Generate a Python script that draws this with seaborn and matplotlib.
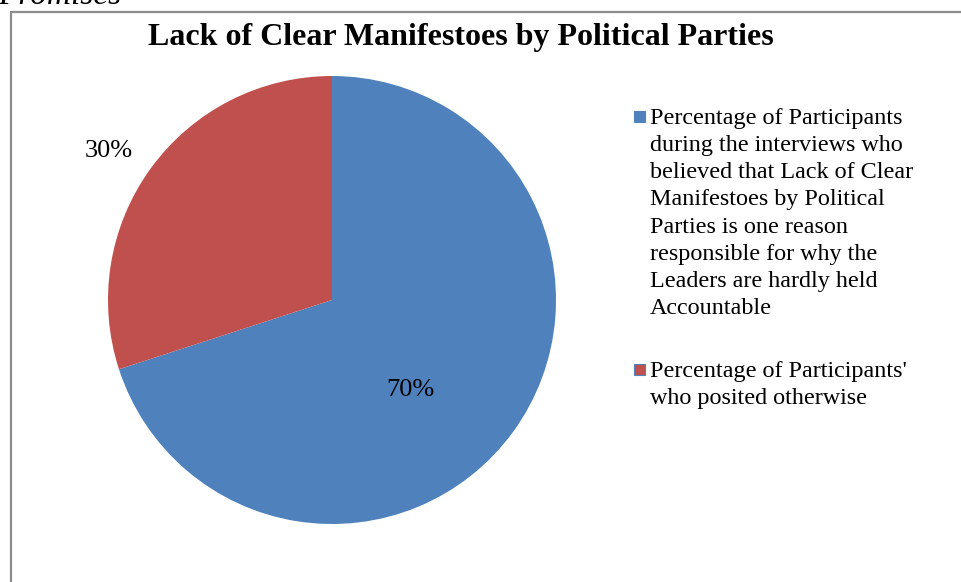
import matplotlib
matplotlib.use("Agg")
import matplotlib.pyplot as plt
from matplotlib.patches import Rectangle
from matplotlib.lines import Line2D
import seaborn as sns

# Data
categories = [
    "Percentage of Participants\nduring the interviews who\nbelieved that Lack of Clear\nManifestoes by Political\nParties is one reason\nresponsible for why the\nLeaders are hardly held\nAccountable",
    "Percentage of Participants'\nwho posited otherwise",
]
values = [70, 30]
colors = ["#4F81BD", "#C0504D"]
title = "Lack of Clear Manifestoes by Political Parties"

sns.set_theme(style="white")
plt.rcParams["font.family"] = ["Liberation Serif", "DejaVu Serif"]

W, H = 961, 582
fig = plt.figure(figsize=(W / 100, H / 100), dpi=100)

def fx(px):
    return px / W

def fy(py):
    return 1 - py / H

# Chart frame (left and top edges visible)
fig.add_artist(Line2D([fx(10.5), fx(10.5)], [0, fy(11.5)], color="#8c8c8c", lw=1.6, transform=fig.transFigure))
fig.add_artist(Line2D([fx(10.5), 1], [fy(11.5), fy(11.5)], color="#8c8c8c", lw=1.6, transform=fig.transFigure))

# Caption fragment above the frame
fig.text(fx(-2), fy(4), "Promises", fontsize=24, style="italic", ha="left", va="baseline", color="black")

# Title
fig.text(fx(461), fy(38), title, fontsize=23, fontweight="bold", ha="center", va="center", color="black")

# Pie
cx, cy, r = 332, 300, 224
ax = fig.add_axes([fx(cx - r), fy(cy + r), (2 * r) / W, (2 * r) / H])
wedges, _ = ax.pie(values, colors=colors, startangle=90, counterclock=False, radius=1,
                   wedgeprops=dict(linewidth=0))
ax.set_xlim(-1, 1)
ax.set_ylim(-1, 1)
ax.set_aspect("equal")
ax.axis("off")

# Percentage labels
label_pos = [(410.5, 390), (108.5, 151)]
for v, (px, py) in zip(values, label_pos):
    fig.text(fx(px), fy(py), f"{v}%", fontsize=19, ha="center", va="center", color="black")

# Legend
legend_tops = [108, 361]
for cat, col, top in zip(categories, colors, legend_tops):
    fig.add_artist(Rectangle((fx(634), fy(top + 14)), fx(11), 11 / H, transform=fig.transFigure,
                             facecolor=col, edgecolor="#4F81BD", lw=0.8))
    fig.text(fx(650), fy(top), cat, fontsize=17.4, ha="left", va="top", linespacing=1.385, color="black")

fig.savefig("out.png", dpi=100)
